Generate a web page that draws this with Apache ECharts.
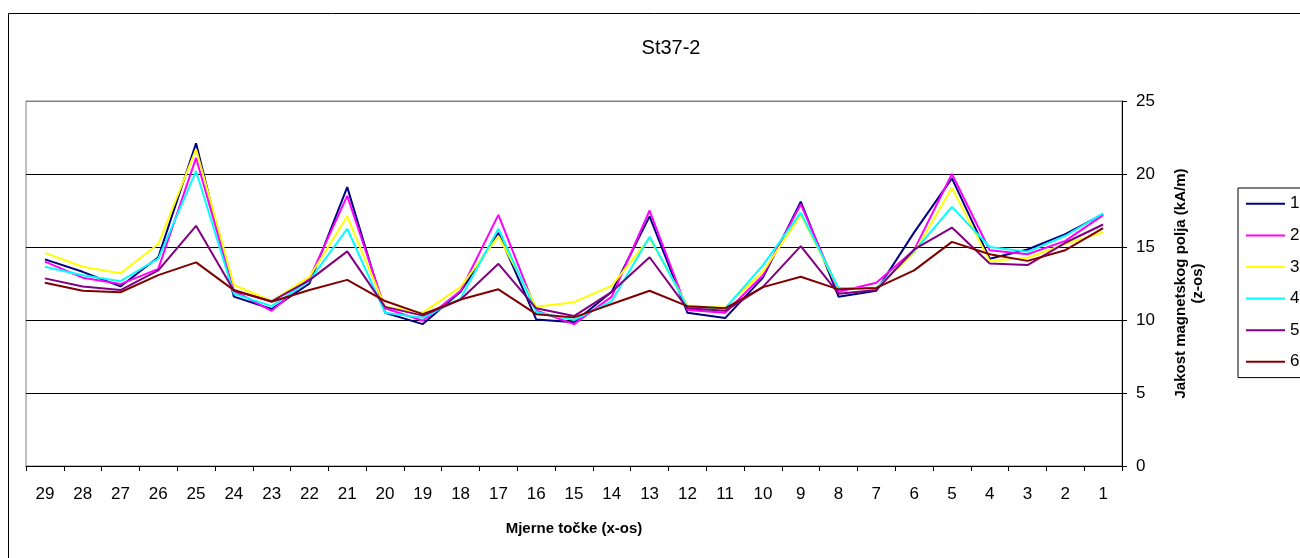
<!DOCTYPE html>
<html>
<head>
<meta charset="utf-8">
<script src="https://cdn.jsdelivr.net/npm/echarts@6/dist/echarts.min.js"></script>
<style>html,body{margin:0;padding:0;background:#fff;}#c{width:1300px;height:558px;}</style>
</head>
<body>
<div id="c"></div>
<script>
const categories = ['29','28','27','26','25','24','23','22','21','20','19','18','17','16','15','14','13','12','11','10','9','8','7','6','5','4','3','2','1'];
const yTicks = [0, 5, 10, 15, 20, 25];
const seriesNames = ['1','2','3','4','5','6'];
const s1 = [14.15,13.3,12.3,14.3,22.1,11.6,10.75,12.5,19.1,10.5,9.72,11.93,15.97,10.04,9.84,11.93,17.1,10.5,10.13,12.9,18.1,11.6,12.0,16.0,19.7,14.2,14.83,15.88,17.25];
const s2 = [14.0,12.9,12.46,13.5,21.1,12.0,10.63,12.85,18.5,10.8,9.95,12.0,17.2,10.65,9.72,11.6,17.5,10.68,10.5,13.07,17.93,11.93,12.55,14.8,20.0,14.78,14.5,15.42,17.18];
const s3 = [14.6,13.65,13.2,15.2,21.7,12.4,11.3,12.96,17.1,10.9,10.5,12.27,15.75,10.9,11.22,12.35,15.6,11.0,10.86,13.3,17.2,12.15,12.2,14.6,19.05,14.05,14.26,15.2,16.0];
const s4 = [13.65,13.07,12.66,14.2,20.2,11.8,10.95,12.7,16.25,10.5,10.15,11.48,16.25,10.55,10.0,11.3,15.7,10.9,10.8,13.76,17.35,12.2,12.2,14.7,17.75,15.0,14.67,15.77,17.3];
const s5 = [12.85,12.3,12.05,13.4,16.45,12.0,11.28,12.73,14.7,10.9,10.3,11.4,13.85,10.8,10.27,11.93,14.3,10.8,10.63,12.27,15.06,11.8,12.05,14.83,16.33,13.87,13.76,15.29,16.54];
const s6 = [12.55,12.0,11.9,13.07,13.95,12.05,11.25,12.05,12.75,11.3,10.4,11.4,12.1,10.4,10.18,11.1,12.0,10.95,10.8,12.25,12.96,12.1,12.2,13.4,15.35,14.5,14.05,14.78,16.3];
const colors = ['#000080','#FF00FF','#FFFF00','#00FFFF','#800080','#800000'];
const allSeries = [s1, s2, s3, s4, s5, s6];

const FONT = "'Liberation Sans', Arial, sans-serif";
const chart = echarts.init(document.getElementById('c'), null, {renderer: 'canvas'});
chart.setOption({
  animation: false,
  backgroundColor: '#fff',
  title: {
    text: 'St37-2', left: 666, top: 33, textAlign: 'center',
    textStyle: {fontFamily: FONT, fontSize: 20, fontWeight: 'normal', color: '#000'}
  },
  graphic: [{
    type: 'rect', shape: {x: 8.5, y: 13.5, width: 1320, height: 600},
    style: {fill: null, stroke: '#000', lineWidth: 1}, silent: true, z: -1
  }],
  legend: {
    orient: 'vertical', left: 1238, top: 188,
    padding: [0, 10, 0, 8],
    itemWidth: 39, itemHeight: 2, itemGap: 0,
    icon: 'rect',
    borderColor: '#000', borderWidth: 1,
    textStyle: {fontFamily: FONT, fontSize: 17, color: '#000', lineHeight: 31.6, padding: [0,0,0,0]},
    data: seriesNames
  },
  grid: {left: 26, right: 178, top: 101, bottom: 92, show: true, borderColor: '#808080', borderWidth: 1, backgroundColor: '#fff'},
  xAxis: {
    type: 'category', data: categories, boundaryGap: true,
    axisLine: {lineStyle: {color: '#000', width: 1}},
    axisTick: {show: true, length: 5, lineStyle: {color: '#000'}},
    axisLabel: {fontFamily: FONT, fontSize: 17, color: '#000', margin: 20},
    name: 'Mjerne točke (x-os)', nameLocation: 'middle', nameGap: 55,
    nameTextStyle: {fontFamily: FONT, fontSize: 15, fontWeight: 'bold', color: '#000'}
  },
  yAxis: {
    type: 'value', position: 'right', min: yTicks[0], max: yTicks[yTicks.length-1], interval: 5,
    axisLine: {show: true, lineStyle: {color: '#000', width: 1}},
    axisTick: {show: true, length: 5, lineStyle: {color: '#000'}},
    axisLabel: {fontFamily: FONT, fontSize: 17, color: '#000', margin: 14},
    splitLine: {show: true, lineStyle: {color: ['#000','#000','#000','#000','#000','#808080'], width: 1}},
    name: 'Jakost magnetskog polja (kA/m)\n(z-os)', nameLocation: 'middle', nameRotate: 90, nameGap: 50,
    nameTextStyle: {fontFamily: FONT, fontSize: 15, fontWeight: 'bold', color: '#000', lineHeight: 17, align: 'center'}
  },
  series: allSeries.map((d, i) => ({
    name: seriesNames[i], type: 'line', data: d, symbol: 'none', showSymbol: false,
    lineStyle: {color: colors[i], width: 2}, itemStyle: {color: colors[i]}
  }))
});
</script>
</body>
</html>
